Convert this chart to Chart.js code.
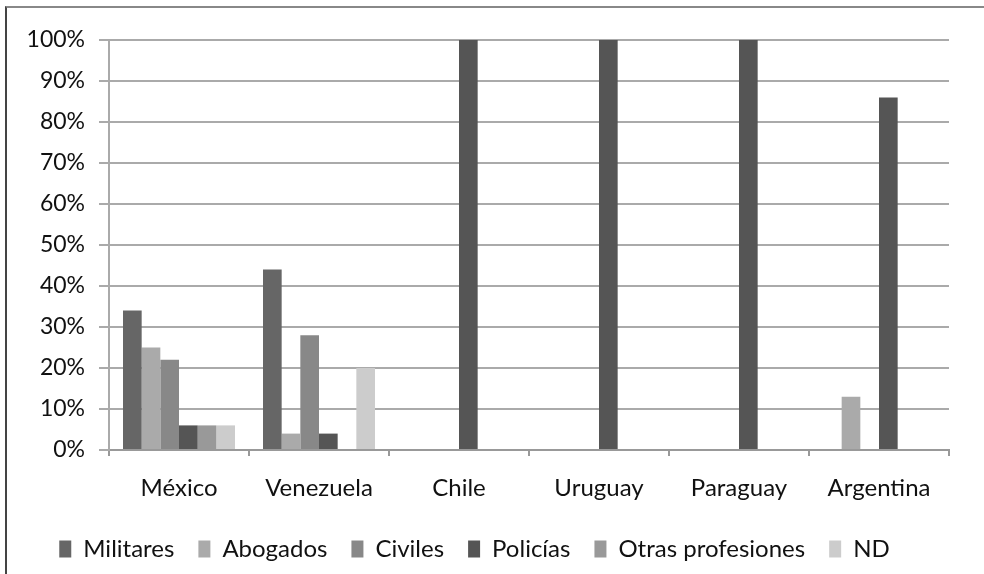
<!DOCTYPE html>
<html>
<head>
<meta charset="utf-8">
<script src="https://cdn.jsdelivr.net/npm/chart.js@4.4.1/dist/chart.umd.min.js"></script>
<style>
  html, body { margin: 0; padding: 0; background: #fff; }
  #wrap { position: relative; width: 984px; height: 574px; overflow: hidden; }
  #frame { position: absolute; left: 5px; top: 6px; width: 990px; height: 600px;
           border-top: 2px solid #888; border-left: 2px solid #444; box-sizing: border-box; }
  canvas { position: absolute; left: 0; top: 0; }
</style>
</head>
<body>
<div id="wrap">
  <div id="frame"></div>
  <canvas id="c" width="984" height="574"></canvas>
</div>
<script>
const categories = ["México", "Venezuela", "Chile", "Uruguay", "Paraguay", "Argentina"];
const seriesNames = ["Militares", "Abogados", "Civiles", "Policías", "Otras profesiones", "ND"];
const militares = [34, 44, 0, 0, 0, 0];
const abogados  = [25, 4, 0, 0, 0, 13];
const civiles   = [22, 28, 0, 0, 0, 0];
const policias  = [6, 4, 100, 100, 100, 86];
const otras     = [6, 0, 0, 0, 0, 0];
const nd        = [6, 20, 0, 0, 0, 0];
const yTicks = [0, 10, 20, 30, 40, 50, 60, 70, 80, 90, 100];

const values = [militares, abogados, civiles, policias, otras, nd];
const colors = ["#666666", "#aaaaaa", "#888888", "#555555", "#999999", "#cccccc"];

Chart.defaults.font.family = "Lato, 'Open Sans', sans-serif";
Chart.defaults.color = "#111";

new Chart(document.getElementById("c"), {
  type: "bar",
  data: {
    labels: categories,
    datasets: seriesNames.map((n, i) => ({
      label: n,
      data: values[i],
      backgroundColor: colors[i],
      borderWidth: 0,
      categoryPercentage: 0.8,
      barPercentage: 1.0
    }))
  },
  options: {
    responsive: false,
    animation: false,
    devicePixelRatio: 1,
    layout: { padding: { left: 0, right: 35, top: 40, bottom: 3 } },
    plugins: {
      tooltip: { enabled: false },
      legend: {
        position: "bottom",
        labels: {
          font: { size: 24 },
          color: "#111",
          boxWidth: 12,
          boxHeight: 17,
          padding: 24
        }
      }
    },
    scales: {
      x: {
        grid: { display: true, drawOnChartArea: false, drawTicks: true, tickLength: 6, color: "#999", lineWidth: 2, offset: true },
        border: { display: true, color: "#999", width: 2 },
        ticks: { font: { size: 24 }, color: "#111", padding: 18 },
        afterFit: (s) => { s.height = 63; }
      },
      y: {
        min: 0, max: 100,
        afterBuildTicks: (s) => { s.ticks = yTicks.map(v => ({ value: v })); },
        grid: { color: "#aaa", lineWidth: 2, tickLength: 10 },
        border: { display: true, color: "#aaa", width: 2 },
        ticks: { font: { size: 23 }, color: "#111", padding: 14, callback: (v) => v + "%" },
        afterFit: (s) => { s.width = 109; }
      }
    }
  }
});
</script>
</body>
</html>
